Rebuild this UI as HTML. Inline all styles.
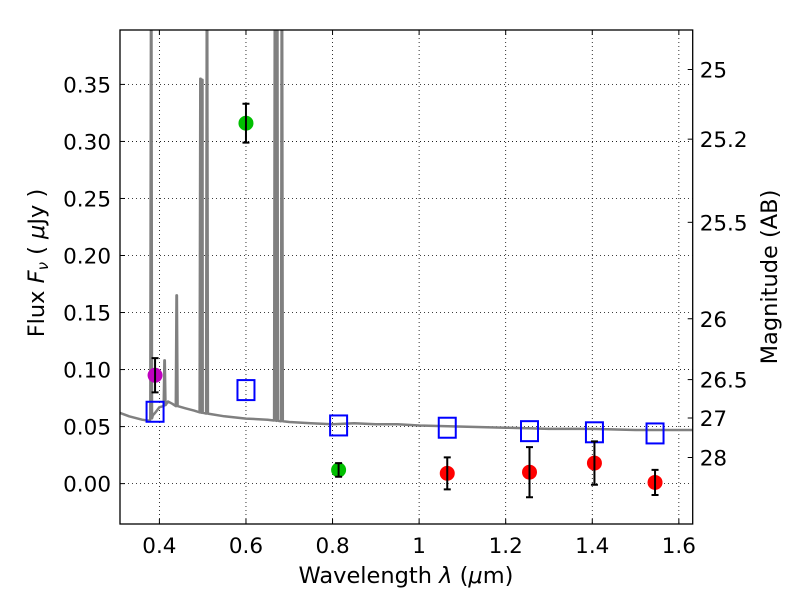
<!DOCTYPE html>
<html><head><meta charset="utf-8"><style>
body{margin:0;background:#fff;}
svg text{font-family:"DejaVu Sans","Liberation Sans",sans-serif;fill:#000;}
</style></head><body>
<svg id="c" width="800" height="600" xmlns="http://www.w3.org/2000/svg"></svg>
<script>
const xTicks=[0.4,0.6,0.8,1.0,1.2,1.4,1.6];
const xTickLabels=["0.4","0.6","0.8","1","1.2","1.4","1.6"];
const yTicks=[0,0.05,0.1,0.15,0.2,0.25,0.3,0.35];
const yTickLabels=["0.00","0.05","0.10","0.15","0.20","0.25","0.30","0.35"];
const magTicks=[25,25.2,25.5,26,26.5,27,28];
const magTickLabels=["25","25.2","25.5","26","26.5","27","28"];
const contWave=[0.309,0.33,0.36,0.378,0.385,0.39,0.40,0.41,0.42,0.43,0.44,0.46,0.48,0.50,0.55,0.60,0.65,0.70,0.75,0.80,0.85,0.90,0.95,1.0,1.1,1.2,1.3,1.4,1.5,1.632];
const contFlux=[0.062,0.059,0.056,0.055,0.060,0.062,0.067,0.068,0.072,0.070,0.068,0.066,0.064,0.062,0.059,0.057,0.056,0.054,0.053,0.052,0.053,0.052,0.052,0.051,0.050,0.049,0.048,0.048,0.047,0.047];
const lineWave=[0.381,0.412,0.44,0.495,0.499,0.51,0.667,0.672,0.683];
const linePeak=[0.45,0.108,0.165,0.355,0.354,0.45,0.45,0.45,0.45];
const photWave=[0.39,0.60,0.814,1.065,1.255,1.405,1.545];
const photFlux=[0.095,0.316,0.012,0.009,0.010,0.018,0.001];
const photErr=[0.015,0.017,0.006,0.014,0.022,0.019,0.011];
const photColor=["#bf00bf","#00bf00","#00bf00","#ff0000","#ff0000","#ff0000","#ff0000"];
const modelFlux=[0.063,0.082,0.051,0.049,0.046,0.045,0.044];

const L=120,R=692.7,T=30,B=524;
const X0=0.309,X1=1.632,Y0=-0.0354,Y1=0.3977;
const sx=v=>L+(v-X0)/(X1-X0)*(R-L);
const sy=v=>B-(v-Y0)/(Y1-Y0)*(B-T);
const magToFlux=m=>Math.pow(10,(23.9-m)/2.5);
const svg=document.getElementById('c');
const NS="http://www.w3.org/2000/svg";
function mk(tag,attrs,parent){const e=document.createElementNS(NS,tag);for(const k in attrs)e.setAttribute(k,attrs[k]);(parent||svg).appendChild(e);return e;}

const defs=mk('defs',{});const cp=mk('clipPath',{id:'pc'},defs);mk('rect',{x:L,y:T,width:R-L,height:B-T},cp);
const FS=21.5;
xTicks.forEach((v,i)=>{
 const g=mk('line',{x1:sx(v),x2:sx(v),y1:T,y2:B,stroke:'#000','stroke-width':0.8,'stroke-dasharray':'1,3'});
 
 
 mk('line',{x1:sx(v),x2:sx(v),y1:B,y2:B-5,stroke:'#000'});
 mk('line',{x1:sx(v),x2:sx(v),y1:T,y2:T+5,stroke:'#000'});
 const t=mk('text',{x:sx(v),y:B+29,'text-anchor':'middle','font-size':FS});t.textContent=xTickLabels[i];
 
 
});
yTicks.forEach((v,i)=>{
 const g=mk('line',{x1:L,x2:R,y1:sy(v),y2:sy(v),stroke:'#000','stroke-width':0.8,'stroke-dasharray':'1,3'});
 
 
 mk('line',{x1:L,x2:L+5,y1:sy(v),y2:sy(v),stroke:'#000'});
 const t=mk('text',{x:L-9,y:sy(v)+8,'text-anchor':'end','font-size':FS});t.textContent=yTickLabels[i];
 
 
});
magTicks.forEach((m,i)=>{
 const y=sy(magToFlux(m));
 mk('line',{x1:R,x2:R-5,y1:y,y2:y,stroke:'#000'});
 const t=mk('text',{x:R+7,y:y+8,'font-size':FS});t.textContent=magTickLabels[i];
 
 
});

const pg=mk('g',{'clip-path':'url(#pc)'});
let pts=contWave.map((w,i)=>[w,contFlux[i]]);
lineWave.forEach((w,i)=>{
 let base=0; for(let j=0;j<contWave.length-1;j++){if(w>=contWave[j]&&w<=contWave[j+1]){const f=(w-contWave[j])/(contWave[j+1]-contWave[j]);base=contFlux[j]+f*(contFlux[j+1]-contFlux[j]);}}
 pts.push([w-0.002,base],[w-0.0005,linePeak[i]],[w+0.0005,linePeak[i]],[w+0.002,base]);
});
pts.sort((a,b)=>a[0]-b[0]);
const sp=mk('polyline',{points:pts.map(p=>sx(p[0]).toFixed(1)+','+sy(p[1]).toFixed(1)).join(' '),fill:'none',stroke:'#808080','stroke-width':2.5,'stroke-linejoin':'round'},pg);



modelFlux.forEach((f,i)=>{
 const r=mk('rect',{x:sx(photWave[i])-8.5,y:sy(f)-10,width:17,height:20,fill:'none',stroke:'#0000ff','stroke-width':2},pg);
 
 
});
photWave.forEach((w,i)=>{
 const x=sx(w),y=sy(photFlux[i]),y1=sy(photFlux[i]+photErr[i]),y2=sy(photFlux[i]-photErr[i]);
 const c=mk('circle',{cx:x,cy:y,r:7.5,fill:photColor[i]},pg);
 
 
 const eb=mk('path',{d:`M${x},${y1}V${y2}M${x-3.5},${y1}H${x+3.5}M${x-3.5},${y2}H${x+3.5}`,stroke:'#000','stroke-width':2,fill:'none'},pg);
 
 
});

const fr=mk('rect',{x:L,y:T,width:R-L,height:B-T,fill:'none',stroke:'#000','stroke-width':1.3});



const xt=mk('text',{x:406,y:583,'text-anchor':'middle','font-size':22.5});xt.innerHTML='Wavelength  <tspan font-style="italic">λ</tspan> (<tspan font-style="italic">μ</tspan>m)';


const yt=mk('text',{x:0,y:0,'text-anchor':'middle','font-size':22.5,transform:'translate(44,263) rotate(-90)'});yt.innerHTML='Flux  <tspan font-style="italic">F</tspan><tspan font-style="italic" font-size="15" dy="4">ν</tspan><tspan dy="-4">  ( </tspan><tspan font-style="italic">μ</tspan>Jy )';


const rt=mk('text',{x:0,y:0,'text-anchor':'middle','font-size':22.5,transform:'translate(777,277) rotate(-90)'});rt.textContent='Magnitude (AB)';


</script>
</body></html>
